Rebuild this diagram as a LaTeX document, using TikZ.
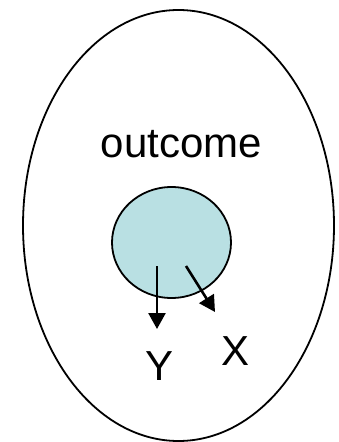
\documentclass[tikz,border=0pt]{standalone}
\usepackage{fontspec}
\setsansfont{Liberation Sans}
\usetikzlibrary{arrows.meta,shapes.geometric}
\definecolor{cInner}{HTML}{B9E0E3}

\begin{document}
\begin{tikzpicture}[
    x=1pt, y=-1pt,
    font=\sffamily\fontsize{42}{50}\selectfont,
    outer/.style={ellipse, draw, line width=1.8pt, inner sep=0pt, minimum width=311pt, minimum height=431pt},
    inner/.style={ellipse, draw, line width=1.8pt, fill=cInner, inner sep=0pt, minimum width=119pt, minimum height=111pt},
    lbl/.style={anchor=base, inner sep=0pt},
    arr/.style={-{Triangle[length=16pt,width=17pt]}, line width=2.6pt},
  ]
  \useasboundingbox (0,0) rectangle (339,442);

  % --- sets ---
  \node[outer] (space) at (178.5,225.5) {};
  \node[inner] (blob) at (171.5,242.5) {};
  \node[lbl] (outc) at (181.5,157) {outcome};

  % --- labels ---
  \node[lbl] (ylab) at (160,380) {Y};
  \node[lbl] (xlab) at (236,365) {X};

  % --- arrows ---
  \coordinate (ys) at (157,266);
  \coordinate (ye) at (157,329);
  \coordinate (xs) at (186,266);
  \coordinate (xe) at (215,312);
  \draw[arr] (ys) -- (ye);
  \draw[arr] (xs) -- (xe);
\end{tikzpicture}
\end{document}
